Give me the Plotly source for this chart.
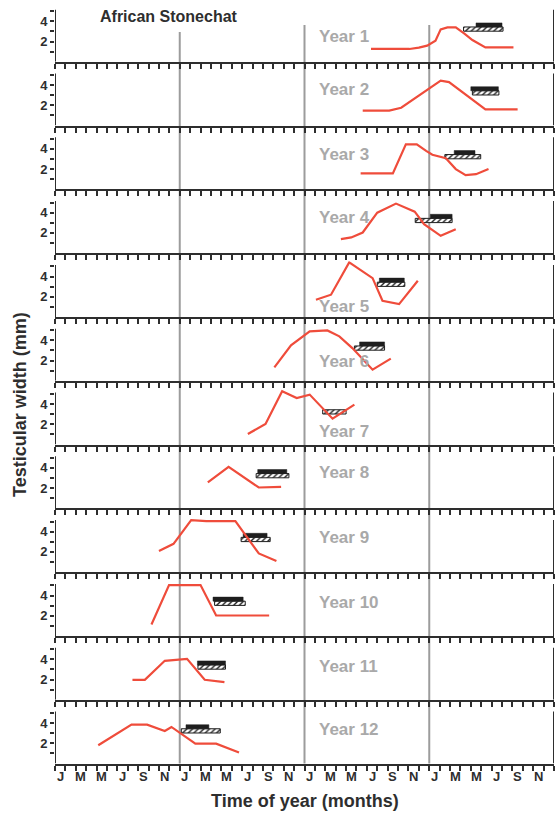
import plotly.graph_objects as go

# ---------------- data (months counted from Jan of first year; widths in mm) -------------
months_1 = [30.4, 34.1, 35.0, 35.8, 36.6, 37.1, 37.75, 38.55, 39.35, 40.15, 41.4, 44.1]
width_1 = [1.26, 1.26, 1.39, 1.59, 2.08, 3.2, 3.4, 3.4, 2.8, 2.15, 1.42, 1.42]
months_2 = [29.6, 32.15, 33.3, 37.1, 37.9, 41.4, 44.5]
width_2 = [1.47, 1.47, 1.76, 4.45, 4.3, 1.6, 1.6]
months_3 = [29.4, 32.5, 33.75, 34.8, 35.7, 36.3, 37.6, 38.55, 39.5, 40.5, 41.7]
width_3 = [1.57, 1.57, 4.45, 4.45, 3.8, 3.42, 3.08, 2.0, 1.4, 1.5, 2.0]
months_4 = [27.5, 28.5, 29.6, 31.0, 32.8, 34.6, 35.5, 37.1, 38.55]
width_4 = [1.38, 1.55, 2.04, 4.0, 4.9, 4.1, 2.87, 1.71, 2.37]
months_5 = [25.1, 26.55, 28.3, 30.55, 31.5, 33.1, 34.9]
width_5 = [1.7, 2.2, 5.4, 3.84, 1.6, 1.27, 3.58]
months_6 = [21.1, 22.7, 24.5, 26.2, 27.35, 28.6, 30.55, 32.3]
width_6 = [1.32, 3.5, 4.88, 4.98, 4.39, 3.23, 1.09, 2.18]
months_7 = [18.55, 20.25, 21.85, 23.25, 24.5, 26.7, 28.8]
width_7 = [1.04, 2.03, 5.27, 4.6, 4.94, 2.56, 3.95]
months_8 = [14.7, 16.7, 19.6, 21.75]
width_8 = [2.56, 4.1, 2.06, 2.13]
months_9 = [10.0, 11.4, 13.1, 14.55, 17.35, 19.6, 21.3]
width_9 = [2.1, 2.8, 5.15, 5.05, 5.05, 1.85, 1.1]
months_10 = [9.28, 10.97, 14.0, 15.5, 20.6]
width_10 = [1.13, 5.03, 5.03, 2.02, 2.02]
months_11 = [7.45, 8.64, 10.56, 12.7, 14.4, 16.3]
width_11 = [1.97, 1.97, 3.85, 4.05, 1.97, 1.74]
months_12 = [4.16, 7.36, 8.86, 10.56, 11.2, 13.5, 15.5, 17.7]
width_12 = [1.81, 3.85, 3.85, 3.22, 3.62, 1.97, 1.97, 1.09]

all_months = [months_1, months_2, months_3, months_4, months_5, months_6,
              months_7, months_8, months_9, months_10, months_11, months_12]
all_widths = [width_1, width_2, width_3, width_4, width_5, width_6,
              width_7, width_8, width_9, width_10, width_11, width_12]

# breeding-season bars (hatched lower bar, solid upper bar)
hatch_start = [39.3, 40.15, 37.5, 34.65, 31.0, 28.8, 25.75, 19.35, 17.9, 15.35, 13.75, 12.15]
hatch_end = [43.1, 42.7, 40.95, 38.2, 33.65, 31.7, 28.0, 22.5, 20.7, 18.3, 16.4, 15.9]
solid_start = [40.5, 40.0, 38.4, 36.1, 31.2, 29.3, None, 19.5, 18.1, 15.2, 13.7, 12.6]
solid_end = [43.0, 42.65, 40.4, 38.2, 33.6, 31.7, None, 22.3, 20.4, 18.1, 16.4, 14.8]

year_labels = ["Year 1", "Year 2", "Year 3", "Year 4", "Year 5", "Year 6",
               "Year 7", "Year 8", "Year 9", "Year 10", "Year 11", "Year 12"]
label_level = [2.5, 3.6, 3.45, 3.5, 1.04, 1.9, 1.24, 3.5, 3.45, 3.35, 3.33, 3.37]

month_letters = ["J", "M", "M", "J", "S", "N"]
year_boundaries = [12, 24, 36]

# ---------------- layout geometry ----------------
W, H = 555, 816
ML, MR = 55, 1
PX_UNIT = 10.1
YMAX = 5.5
AXIS_TOP = 5.15
DARK = "#2e2e2e"
RED = "#ef4c3b"
GREY_TXT = "#a9a9a9"
BOLD = "Liberation Sans, Arial, sans-serif"

bottoms = [61.7 + k * 63.8 for k in range(12)]

fig = go.Figure()
layout = {}
shapes = []
annotations = []

for k in range(12):
    i = k + 1
    sfx = "" if i == 1 else str(i)
    xr, yr = "x" + sfx, "y" + sfx
    b = bottoms[k]
    t = b - YMAX * PX_UNIT
    layout["xaxis" + sfx] = dict(
        domain=[0, 1], range=[0, 48], anchor=yr, showline=True, linewidth=2,
        linecolor=DARK, ticks="outside", ticklen=5, tickwidth=1.6, tickcolor=DARK,
        tickmode="array", tickvals=list(range(49)), showticklabels=False,
        showgrid=False, zeroline=False, fixedrange=True, automargin=False,
    )
    layout["yaxis" + sfx] = dict(
        domain=[1 - b / H, 1 - t / H], range=[0, YMAX], anchor=xr, showline=False,
        ticks="outside", ticklen=4, tickwidth=1.6, tickcolor=DARK,
        tickmode="array", tickvals=[2, 4], ticktext=["2", "4"],
        minor=dict(tickmode="array", tickvals=[1, 3, 5], ticks="outside",
                   ticklen=4, tickwidth=1.6, tickcolor=DARK, showgrid=False),
        showgrid=False, zeroline=False, automargin=False, fixedrange=True,
        tickfont=dict(family=BOLD, size=13, color=DARK, weight="bold"),
    )
    # left axis line and right frame line
    for xv in (0, 48):
        shapes.append(dict(type="line", xref=xr, yref=yr, x0=xv, x1=xv, y0=0, y1=AXIS_TOP,
                           line=dict(color=DARK, width=2)))

    # testis width curve
    fig.add_trace(go.Scatter(x=all_months[k], y=all_widths[k], mode="lines",
                             line=dict(color=RED, width=2.2), xaxis=xr, yaxis=yr,
                             showlegend=False, hoverinfo="skip"))
    # hatched bar
    fig.add_trace(go.Bar(orientation="h", y=[3.23], base=[hatch_start[k]],
                         x=[hatch_end[k] - hatch_start[k]], width=0.42,
                         marker=dict(color="white", line=dict(color="#1e1e1e", width=1),
                                     pattern=dict(shape="/", fgcolor="#1e1e1e", bgcolor="white",
                                                  size=4, solidity=0.35)),
                         xaxis=xr, yaxis=yr, showlegend=False, hoverinfo="skip"))
    if solid_start[k] is not None:
        fig.add_trace(go.Bar(orientation="h", y=[3.64], base=[solid_start[k]],
                             x=[solid_end[k] - solid_start[k]], width=0.40,
                             marker=dict(color="#1e1e1e", line=dict(color="#1e1e1e", width=0.5)),
                             xaxis=xr, yaxis=yr, showlegend=False, hoverinfo="skip"))

    annotations.append(dict(text=year_labels[k], xref=xr, yref=yr, x=25.2, y=label_level[k],
                            xanchor="left", yanchor="middle", showarrow=False,
                            font=dict(family=BOLD, size=17, color=GREY_TXT, weight="bold")))

# month letters under the bottom panel
for j in range(24):
    annotations.append(dict(text=month_letters[j % 6], xref="x12", yref="paper",
                            x=2 * j + 0.5, y=1 - 776 / H, xanchor="center", yanchor="middle",
                            showarrow=False,
                            font=dict(family=BOLD, size=13, color=DARK, weight="bold")))

# grey year-boundary lines spanning all panels
y_bottom_paper = 1 - bottoms[-1] / H
for xb in year_boundaries:
    top_px = 32 if xb == 12 else 25
    shapes.append(dict(type="line", xref="x", yref="paper", x0=xb, x1=xb,
                       y0=y_bottom_paper, y1=1 - top_px / H, layer="below",
                       line=dict(color="#9c9c9c", width=2)))

pw = W - ML - MR
annotations.append(dict(text="African Stonechat", xref="paper", yref="paper",
                        x=(98 - ML) / pw, y=1 - 16 / H, xanchor="left", yanchor="middle",
                        showarrow=False, font=dict(family=BOLD, size=16, color=DARK, weight="bold")))
annotations.append(dict(text="Testicular width (mm)", xref="paper", yref="paper",
                        x=(20 - ML) / pw, y=1 - 405 / H, xanchor="center", yanchor="middle",
                        textangle=-90, showarrow=False,
                        font=dict(family=BOLD, size=18, color=DARK, weight="bold")))
annotations.append(dict(text="Time of year (months)", xref="paper", yref="paper",
                        x=(305 - ML) / pw, y=1 - 801 / H, xanchor="center", yanchor="middle",
                        showarrow=False, font=dict(family=BOLD, size=18, color=DARK, weight="bold")))

fig.update_layout(
    template="none", width=W, height=H,
    margin=dict(l=ML, r=MR, t=0, b=0, pad=0),
    paper_bgcolor="white", plot_bgcolor="rgba(0,0,0,0)",
    barmode="overlay", showlegend=False,
    shapes=shapes, annotations=annotations,
    **layout,
)

fig.write_html("out.html", config={"displayModeBar": False},
               post_script="document.body.style.margin='0';document.body.style.padding='0';")
